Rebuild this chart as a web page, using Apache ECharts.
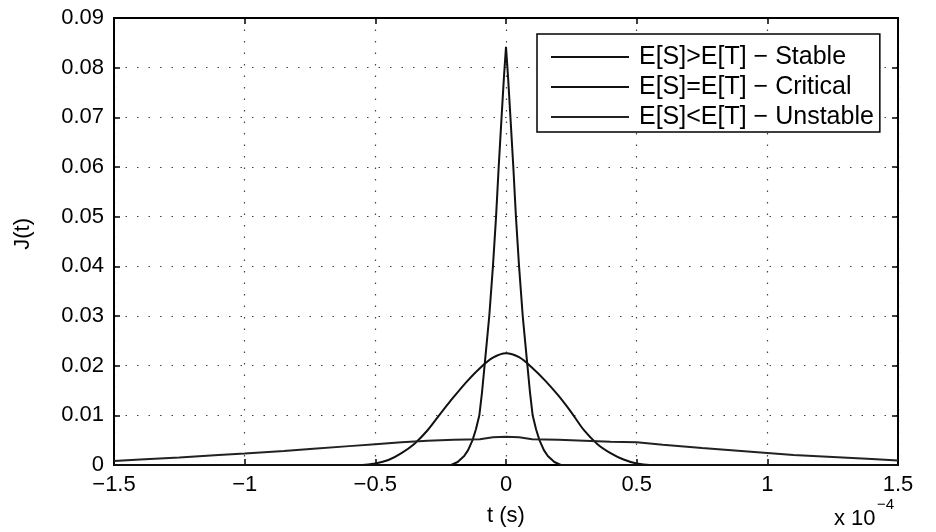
<!DOCTYPE html>
<html>
<head>
<meta charset="utf-8">
<script src="https://cdn.jsdelivr.net/npm/echarts@6/dist/echarts.min.js"></script>
<style>
  html, body { margin: 0; padding: 0; background: #fff; }
  #main { width: 936px; height: 532px; }
</style>
</head>
<body>
<div id="main"></div>
<script>
// t in units of 1e-4 s
var seriesNames = ['E[S]>E[T] \u2212 Stable', 'E[S]=E[T] \u2212 Critical', 'E[S]<E[T] \u2212 Unstable'];

var tStable = [-1.5, -0.21, -0.185, -0.16, -0.145, -0.128, -0.115, -0.102, -0.092, -0.082, -0.073, -0.064, -0.05, -0.038, -0.028, -0.017, -0.008, 0,
               0.008, 0.017, 0.028, 0.038, 0.05, 0.064, 0.073, 0.082, 0.092, 0.102, 0.115, 0.128, 0.145, 0.16, 0.185, 0.21, 1.5];
var jStable = [0, 0, 0.0006, 0.0018, 0.0030, 0.0050, 0.0072, 0.0100, 0.0145, 0.0200, 0.0250, 0.0300, 0.0400, 0.0500, 0.0600, 0.0700, 0.0780, 0.0842,
               0.0780, 0.0700, 0.0600, 0.0500, 0.0400, 0.0300, 0.0250, 0.0200, 0.0145, 0.0100, 0.0072, 0.0050, 0.0030, 0.0018, 0.0006, 0, 0];

var tCritical = [-1.5, -0.55, -0.5, -0.45, -0.4, -0.35, -0.3, -0.25, -0.2, -0.15, -0.1, -0.05, 0,
                 0.05, 0.1, 0.15, 0.2, 0.25, 0.3, 0.35, 0.4, 0.45, 0.5, 0.55, 1.5];
var jCritical = [0, 0, 0.0003, 0.0010, 0.0024, 0.0043, 0.0070, 0.0104, 0.0137, 0.0168, 0.0195, 0.0216, 0.0225,
                 0.0217, 0.0196, 0.0170, 0.0140, 0.0106, 0.0069, 0.0042, 0.0024, 0.0011, 0.0003, 0, 0];

var tUnstable = [-1.5, -1.4, -1.25, -1.1, -1.0, -0.85, -0.75, -0.6, -0.5, -0.4, -0.3, -0.2, -0.1, -0.05, 0,
                 0.05, 0.1, 0.2, 0.3, 0.4, 0.5, 0.6, 0.75, 0.85, 1.0, 1.1, 1.25, 1.4, 1.5];
var jUnstable = [0.0008, 0.0011, 0.0015, 0.0020, 0.0023, 0.0028, 0.0032, 0.0038, 0.0042, 0.0046, 0.0049, 0.0051, 0.0052, 0.0056, 0.0057,
                 0.0056, 0.0052, 0.0051, 0.0049, 0.0047, 0.0046, 0.0041, 0.0034, 0.0030, 0.0024, 0.0020, 0.0016, 0.0012, 0.0009];

function pairs(t, j) {
  return t.map(function (v, i) { return [v, j[i]]; });
}

var font = 'Liberation Sans, Arial, sans-serif';
var gridLine = { show: true, lineStyle: { color: '#444', width: 1.2, type: [1.5, 10] } };

function axisBase(extra) {
  var a = {
    type: 'value',
    axisLine: { show: true, onZero: false, lineStyle: { color: '#000', width: 2 } },
    axisTick: { show: true, inside: true, length: 6, lineStyle: { color: '#000', width: 1.5 } }
  };
  for (var k in extra) a[k] = extra[k];
  return a;
}

var chart = echarts.init(document.getElementById('main'));
chart.setOption({
  backgroundColor: '#fff',
  animation: false,
  grid: { left: 114, right: 38, top: 18, bottom: 67, show: true, borderColor: '#000', borderWidth: 2 },
  legend: {
    data: seriesNames,
    orient: 'vertical',
    left: 537, top: 34,
    padding: [8, 6, 0, 14],
    itemGap: 0,
    icon: 'rect',
    itemWidth: 78, itemHeight: 2,
    backgroundColor: '#fff',
    borderColor: '#000', borderWidth: 1.5, borderRadius: 0,
    textStyle: { fontFamily: font, fontSize: 25, lineHeight: 30, color: '#000', padding: [0, 0, 0, 5] }
  },
  xAxis: [
    axisBase({
      position: 'bottom', min: -1.5, max: 1.5, interval: 0.5,
      splitLine: gridLine,
      axisLabel: { color: '#000', fontFamily: font, fontSize: 22, margin: 9,
        formatter: function (v) { return String(v).replace('-', '\u2212'); } }
    }),
    axisBase({ position: 'top', min: -1.5, max: 1.5, interval: 0.5, splitLine: { show: false }, axisLabel: { show: false } })
  ],
  yAxis: [
    axisBase({
      position: 'left', min: 0, max: 0.09, interval: 0.01,
      splitLine: gridLine,
      axisLabel: { color: '#000', fontFamily: font, fontSize: 22, margin: 10,
        formatter: function (v) { return v === 0 ? '0' : v.toFixed(2); } }
    }),
    axisBase({ position: 'right', min: 0, max: 0.09, interval: 0.01, splitLine: { show: false }, axisLabel: { show: false } })
  ],
  series: [
    { name: seriesNames[0], type: 'line', symbol: 'none', data: pairs(tStable, jStable), lineStyle: { color: '#111', width: 2 }, itemStyle: { color: '#111' } },
    { name: seriesNames[1], type: 'line', symbol: 'none', smooth: 0.3, data: pairs(tCritical, jCritical), lineStyle: { color: '#111', width: 2 }, itemStyle: { color: '#111' } },
    { name: seriesNames[2], type: 'line', symbol: 'none', data: pairs(tUnstable, jUnstable), lineStyle: { color: '#222', width: 2 }, itemStyle: { color: '#222' } }
  ],
  graphic: [
    { type: 'text', left: 487, top: 505, style: { text: 't (s)', fontFamily: font, fontSize: 22, fill: '#000' } },
    { type: 'text', left: 12, top: 218, rotation: Math.PI / 2, style: { text: 'J(t)', fontFamily: font, fontSize: 22, fill: '#000' } },
    { type: 'text', left: 834, top: 508, style: { text: 'x 10', fontFamily: font, fontSize: 22, fill: '#000' } },
    { type: 'text', left: 877, top: 497, style: { text: '\u22124', fontFamily: font, fontSize: 15, fill: '#000' } }
  ]
});
</script>
</body>
</html>
